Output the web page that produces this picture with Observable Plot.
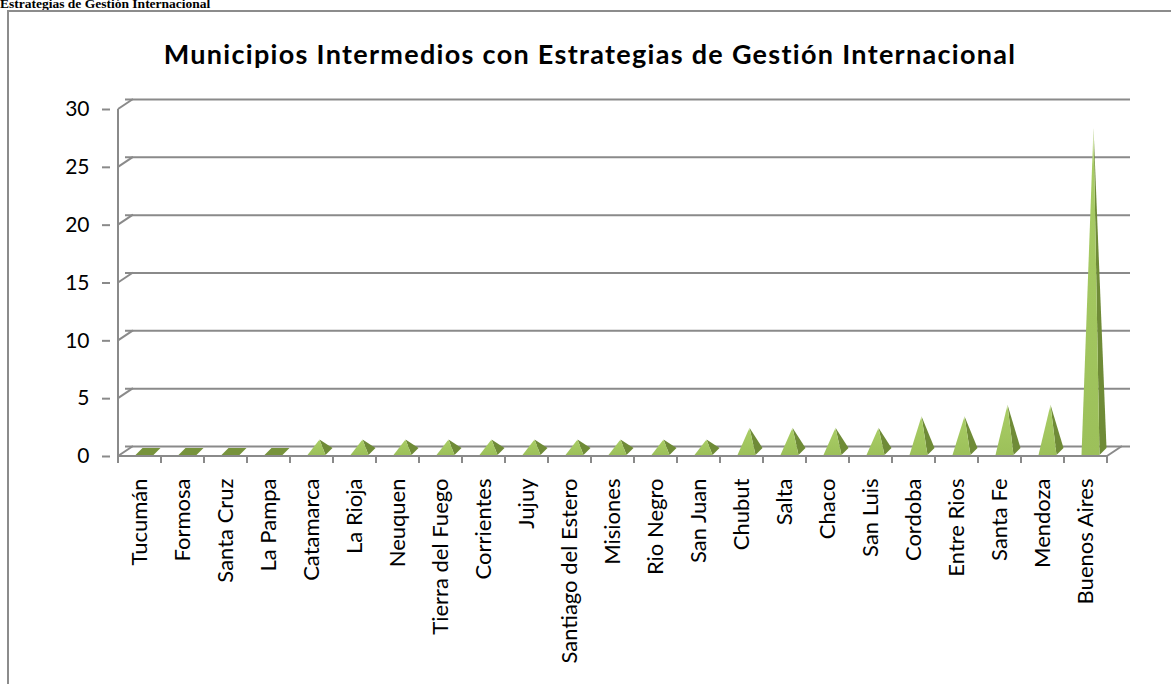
<!DOCTYPE html>
<html>
<head>
<meta charset="utf-8">
<script src="https://cdn.jsdelivr.net/npm/d3@7"></script>
<script src="https://cdn.jsdelivr.net/npm/@observablehq/plot@0.6"></script>
<style>
  html, body { margin: 0; padding: 0; background: #fff; overflow: hidden; }
  #page { position: relative; width: 1171px; height: 684px; overflow: hidden; }
  #doc { position: absolute; left: 0px; top: -3px; font-family: "Liberation Serif", serif; font-weight: bold; font-size: 13.5px; line-height: 14px; color: #000; white-space: nowrap; }
  #frame { position: absolute; left: 7px; top: 10px; width: 1250px; height: 760px; border: 2px solid #8c8c8c; box-sizing: border-box; pointer-events: none; }
  #title { position: absolute; left: 590px; top: 40px; transform: translateX(-50%); font-family: Lato, sans-serif; font-weight: bold; font-size: 27px; line-height: 27px; letter-spacing: 1.3px; color: #000; white-space: nowrap; }
  #chart { position: absolute; left: 0; top: 0; }
</style>
</head>
<body>
<div id="page">
  <div id="chart"></div>
  <div id="doc">Estrategias de Gestión Internacional</div>
  <div id="frame"></div>
  <div id="title">Municipios Intermedios con Estrategias de Gestión Internacional</div>
</div>
<script>
const provincias = ["Tucumán","Formosa","Santa Cruz","La Pampa","Catamarca","La Rioja","Neuquen","Tierra del Fuego","Corrientes","Jujuy","Santiago del Estero","Misiones","Rio Negro","San Juan","Chubut","Salta","Chaco","San Luis","Cordoba","Entre Rios","Santa Fe","Mendoza","Buenos Aires"];
const municipios = [0,0,0,0,1,1,1,1,1,1,1,1,1,1,2,2,2,2,3,3,4,4,28];
const yTicks = [0,5,10,15,20,25,30];

const data = provincias.map((p, i) => ({provincia: p, valor: municipios[i]}));

const gridColor = "#8a8a8a";
const depthDx = 15, depthDy = -10;

// 3D wall connectors, floor and pyramids drawn with Plot's scales
function chart3D(index, scales) {
  const x = scales.x, y = scales.y;
  const g = d3.create("svg:g");
  const x0 = x(provincias[0]);
  const bw = x(provincias[1]) - x(provincias[0]);
  const x1 = x0 + bw * provincias.length;
  const y0 = y(0);
  const defs = g.append("defs");
  const grad = defs.append("linearGradient").attr("id", "frontGrad").attr("x1", 0).attr("y1", 1).attr("x2", 0).attr("y2", 0);
  grad.append("stop").attr("offset", "0%").attr("stop-color", "#9cc05a");
  grad.append("stop").attr("offset", "88%").attr("stop-color", "#a8cc64");
  grad.append("stop").attr("offset", "100%").attr("stop-color", "#dcebbd");
  const lines = g.append("g").attr("stroke", gridColor).attr("stroke-width", 2).attr("fill", "none");
  for (const t of yTicks) {
    lines.append("line").attr("x1", x0).attr("y1", y(t)).attr("x2", x0 + depthDx).attr("y2", y(t) + depthDy);
  }
  lines.append("line").attr("x1", x0).attr("y1", y(0)).attr("x2", x0).attr("y2", y(yTicks[yTicks.length - 1]));
  lines.append("line").attr("x1", x0).attr("y1", y0).attr("x2", x1).attr("y2", y0);
  lines.append("line").attr("x1", x1).attr("y1", y0).attr("x2", x1 + depthDx).attr("y2", y0 + depthDy);
  for (let i = 0; i <= provincias.length; i++) {
    const xx = x0 + i * bw;
    lines.append("line").attr("x1", xx).attr("y1", y0).attr("x2", xx).attr("y2", y0 + 7);
  }
  const pyr = g.append("g");
  data.forEach(d => {
    const cx = x(d.provincia) + bw / 2;
    const fl = [cx - 4, y0 - 1], fr = [cx + 14, y0 - 1], br = [cx + 21, y0 - 8], bl = [cx + 3, y0 - 8];
    if (d.valor === 0) {
      pyr.append("path").attr("d", "M" + [fl, fr, br, bl].join("L") + "Z").attr("fill", "#77933c");
    } else {
      const apex = [cx + 8, y(d.valor) - 5];
      pyr.append("path").attr("d", "M" + [fr, br, apex].join("L") + "Z").attr("fill", "#6f8b37");
      pyr.append("path").attr("d", "M" + [fl, fr, apex].join("L") + "Z").attr("fill", "url(#frontGrad)");
    }
  });
  return g.node();
}

const plot = Plot.plot({
  width: 1171,
  height: 684,
  marginTop: 109,
  marginBottom: 228,
  marginLeft: 110,
  marginRight: 56,
  style: { background: "transparent", fontFamily: "Lato, sans-serif", color: "#000" },
  x: { type: "band", domain: provincias, padding: 0, label: null },
  y: { domain: [0, 30], label: null },
  marks: [
    Plot.ruleY(yTicks, { dx: depthDx, dy: depthDy, stroke: gridColor, strokeWidth: 2 }),
    Plot.axisY({ ticks: yTicks, tickSize: 8, tickPadding: 13, fontSize: 21, stroke: gridColor, strokeWidth: 2, strokeOpacity: 1, fill: "#000", label: null }),
    Plot.axisX({ tickRotate: -90, tickSize: 0, tickPadding: 22, fontSize: 22, fill: "#000", label: null }),
    chart3D
  ]
});
document.getElementById("chart").appendChild(plot);
</script>
</body>
</html>
